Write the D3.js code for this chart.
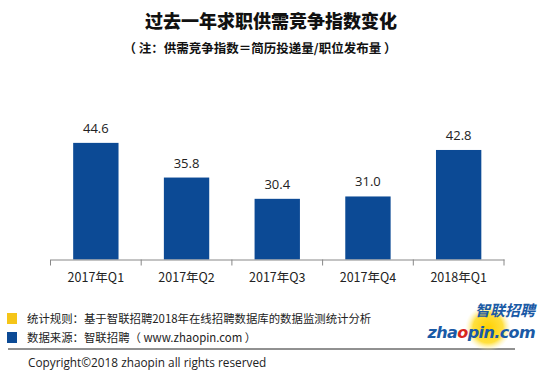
<!DOCTYPE html>
<html><head><meta charset="utf-8">
<script src="https://cdn.jsdelivr.net/npm/d3@7"></script>
<style>body{margin:0;background:#fff}svg{display:block}</style>
</head><body>
<svg id="c" width="550" height="372"></svg>
<script>
const categories = ["2017年Q1","2017年Q2","2017年Q3","2017年Q4","2018年Q1"];
const values = [44.6, 35.8, 30.4, 31.0, 42.8];
const labels = ["44.6","35.8","30.4","31.0","42.8"];
const title = "过去一年求职供需竞争指数变化";
const subtitle = "（ 注：供需竞争指数＝简历投递量/职位发布量 ）";
const notes = ["统计规则：基于智联招聘2018年在线招聘数据库的数据监测统计分析","数据来源：智联招聘（ www.zhaopin.com ）"];
const copyright = "Copyright©2018 zhaopin all rights reserved";

const svg = d3.select("#c");
const font = "'Noto Sans CJK SC','Microsoft YaHei',sans-serif";
const barColor = "#0c4a95";

svg.append("text").attr("x",271).attr("y",28).attr("text-anchor","middle")
  .attr("font-family",font).attr("font-weight","900").attr("font-size",18).attr("fill","#111").text(title);
svg.append("text").attr("x",260).attr("y",53).attr("text-anchor","middle")
  .attr("font-family",font).attr("font-weight","bold").attr("font-size",12.5).attr("fill","#111").text(subtitle);

const x = d3.scaleBand().domain(categories).range([50.5,504]).paddingInner(0.5).paddingOuter(0.25);
const y = d3.scaleLinear().domain([15,50]).range([259.5, 259.5-35*3.94]);

svg.selectAll("rect.bar").data(values).join("rect").attr("class","bar")
  .attr("x",(d,i)=>x(categories[i])).attr("width",x.bandwidth())
  .attr("y",d=>y(d)).attr("height",d=>y(15)-y(d)).attr("fill",barColor);

svg.selectAll("text.val").data(values).join("text").attr("class","val")
  .attr("x",(d,i)=>x(categories[i])+x.bandwidth()/2).attr("y",d=>y(d)-10)
  .attr("text-anchor","middle").attr("font-family","'Open Sans','Noto Sans',sans-serif").attr("font-size",13).attr("fill","#222")
  .text((d,i)=>labels[i]);

const axis = d3.axisBottom(x).tickSize(0).tickPadding(14);
const g = svg.append("g").attr("transform",`translate(0,${y(15)})`).call(axis);
g.select(".domain").attr("stroke","#888");
g.selectAll("text").attr("font-family",font).attr("font-size",12.5).attr("fill","#222");
const bounds = d3.range(categories.length+1).map(i=>50.5+i*(504-50.5)/categories.length);
g.selectAll("line.bt").data(bounds).join("line").attr("class","bt")
  .attr("x1",d=>d).attr("x2",d=>d).attr("y1",0).attr("y2",6).attr("stroke","#888");

// footer
const sq = [["#f5c518",313],["#0c4a95",332]];
sq.forEach((s,i)=>{
  svg.append("rect").attr("x",7).attr("y",s[1]).attr("width",10).attr("height",11).attr("fill",s[0]);
  svg.append("text").attr("x",27).attr("y",s[1]+10).attr("font-family",font).attr("font-size",11.4).attr("fill","#222").text(notes[i]);
});
svg.append("line").attr("x1",8).attr("x2",515).attr("y1",349).attr("y2",349).attr("stroke","#222").attr("stroke-width",1);
svg.append("text").attr("x",28).attr("y",367).attr("font-family","'Open Sans','Noto Sans',sans-serif").attr("font-size",11.8).attr("fill","#222").text(copyright);

// logo
const defs = svg.append("defs");
const rg = defs.append("radialGradient").attr("id","yg");
rg.append("stop").attr("offset","0%").attr("stop-color","#ffd000");
rg.append("stop").attr("offset","65%").attr("stop-color","#ffe040");
rg.append("stop").attr("offset","100%").attr("stop-color","#fff6c0").attr("stop-opacity",0);
svg.append("circle").attr("cx",488).attr("cy",328).attr("r",23).attr("fill","url(#yg)");
svg.append("text").attr("x",535).attr("y",316).attr("text-anchor","end").attr("font-family",font).attr("font-weight","bold").attr("font-style","italic")
  .attr("font-size",15).attr("fill","#1a5aa6").text("智联招聘");
const t = svg.append("text").attr("x",535).attr("y",338).attr("text-anchor","end").attr("font-family","'DejaVu Sans',sans-serif").attr("font-weight","bold").attr("font-style","italic")
  .attr("font-size",16).attr("letter-spacing",-0.6).attr("fill","#1a5aa6");
t.append("tspan").text("zha");
t.append("tspan").attr("fill","#d7261e").text("o");
t.append("tspan").text("pin.com");
</script>
</body></html>
